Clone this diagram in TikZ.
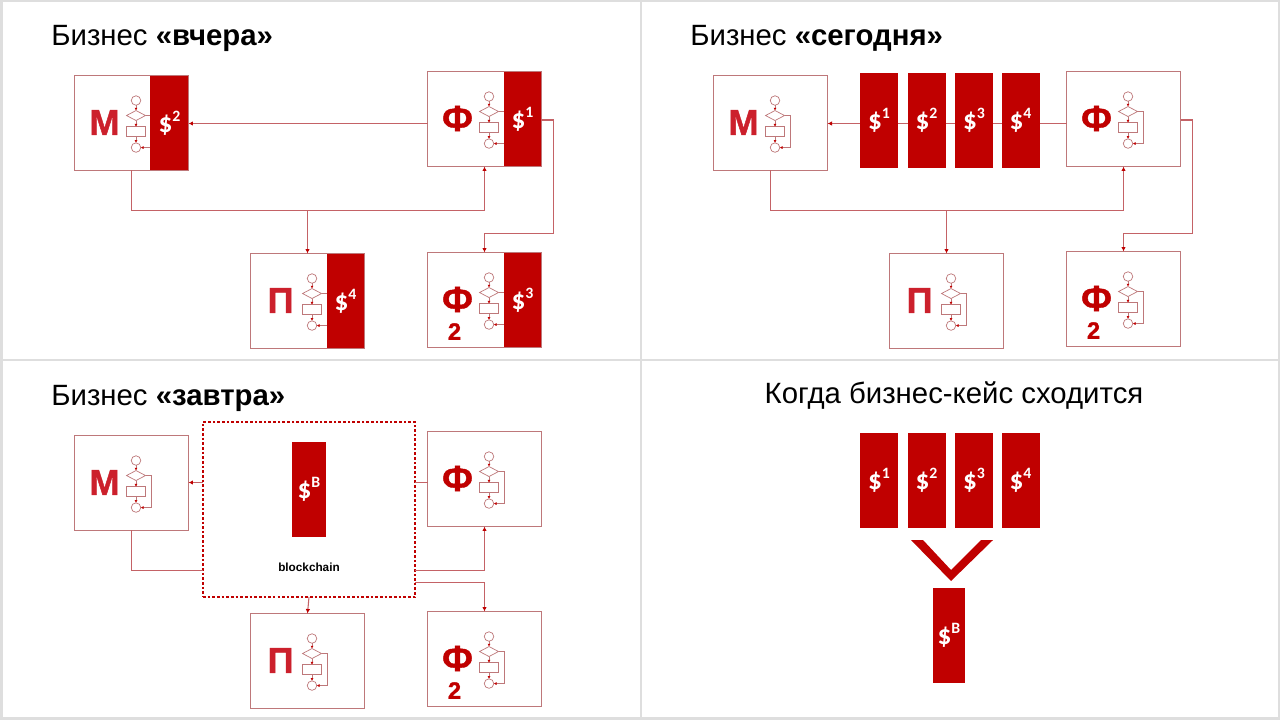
\documentclass[tikz,border=0pt]{standalone}
\usepackage{fontspec}
\usepackage{xcolor}
\setmainfont{Liberation Sans}
\newfontfamily\dollarfont{Carlito}
\newfontfamily\letterfont[FakeBold=1.2]{Liberation Sans Bold}
\usetikzlibrary{arrows.meta,positioning,calc,shapes.geometric}
\definecolor{bizRed}{RGB}{192,0,0}
\definecolor{bizBright}{RGB}{204,32,44}
\definecolor{bizLine}{RGB}{190,120,122}
\definecolor{bizConn}{RGB}{196,98,102}
\definecolor{bizFrame}{RGB}{222,222,222}
\newcommand{\dollarsign}[1]{{\dollarfont\bfseries\fontsize{15.5}{15.5}\selectfont\$\raisebox{0.4em}{\fontsize{9}{9}\selectfont #1}}}
% one unit: box, letter and small flowchart
\newcommand{\unitblock}[5]{%
    \node[unit] (#1) at (#2+57,#3+47.5) {};
    \node[letter, text=#5] (#1l) at ($(#1.north west)+(30,47)$) {#4};
    \node[fcircle] (#1a) at ($(#1.north west)+(61.5,25)$) {};
    \node[fdiamond, below=3pt of #1a] (#1b) {};
    \node[frect, below=3.5pt of #1b] (#1c) {};
    \node[fcircle, below=3.5pt of #1c] (#1d) {};
    \draw[fline] (#1a) -- (#1b);
    \draw[fline] (#1b) -- (#1c);
    \draw[fline] (#1c) -- (#1d);
    \draw[fline] (#1b.east) -| ($(#1c.east)+(5.5,0)$) |- (#1d.east);
}
\begin{document}
\begin{tikzpicture}[
    x=0.02cm, y=-0.02cm,
    unit/.style={rectangle, draw=bizLine, fill=white, line width=0.6pt, minimum width=2.28cm, minimum height=1.9cm, inner sep=0pt, outer sep=0pt},
    letter/.style={font=\letterfont\fontsize{20.5}{20.5}\selectfont, inner sep=0pt},
    numeral/.style={font=\letterfont\fontsize{13.5}{13.5}\selectfont, text=bizRed, inner sep=0pt},
    fcircle/.style={circle, draw=bizLine, fill=white, line width=0.4pt, minimum size=0.19cm, inner sep=0pt, outer sep=0pt},
    fdiamond/.style={diamond, draw=bizLine, fill=white, line width=0.4pt, minimum width=0.38cm, minimum height=0.2cm, inner sep=0pt, outer sep=0pt, aspect=1.9},
    frect/.style={rectangle, draw=bizLine, fill=white, line width=0.4pt, minimum width=0.39cm, minimum height=0.2cm, inner sep=0pt, outer sep=0pt},
    fline/.style={-{Latex[length=0.55mm,width=0.6mm,color=bizRed]}, draw=bizLine, line width=0.4pt},
    dollar/.style={rectangle, fill=bizRed, text=white, minimum width=0.76cm, minimum height=1.9cm, inner sep=0pt, outer sep=0pt},
    arrow/.style={-{Latex[length=0.9mm,width=0.9mm,color=bizRed]}, draw=bizConn, line width=0.6pt},
    conn/.style={draw=bizConn, line width=0.6pt},
    heading/.style={font=\fontsize{16.7}{16.7}\selectfont, text=black, inner sep=0pt}
]
    \useasboundingbox (0,0) rectangle (1280,720);
    % Frame
    \fill[white] (0,0) rectangle (1280,720);
    \draw[bizFrame, line width=1.3pt] (1,1) -- (1279,1);
    \draw[bizFrame, line width=1.7pt] (1.5,0) -- (1.5,720);
    \draw[bizFrame, line width=1.7pt] (0,718.5) -- (1280,718.5);
    \draw[bizFrame, line width=1.1pt] (1279,0) -- (1279,720);
    \draw[bizFrame, line width=1.1pt] (641,0) -- (641,720);
    \draw[bizFrame, line width=1.1pt] (0,360) -- (1280,360);

    % Yesterday
    \node[heading, anchor=base west] (title1) at (51,45) {Бизнес \textbf{«вчера»}};
    \unitblock{ma}{74.5}{75.5}{М}{bizBright}
    \unitblock{fa}{427.5}{71.5}{Ф}{bizRed}
    \unitblock{pa}{250.5}{253.5}{П}{bizBright}
    \unitblock{ga}{427.5}{252.5}{Ф}{bizRed}
    \node[numeral] (ga2) at ($(ga.north west)+(27,79)$) {2};
    \node[dollar, anchor=east] (da2) at (ma.east) {\dollarsign{2}};
    \node[dollar, anchor=east] (da1) at (fa.east) {\dollarsign{1}};
    \node[dollar, anchor=east] (da4) at (pa.east) {\dollarsign{4}};
    \node[dollar, anchor=east] (da3) at (ga.east) {\dollarsign{3}};
    \draw[arrow] (fa.west |- 0,123.5) -- (da2.east |- 0,123.5);
    \draw[arrow] (ma.south -| 131.5,0) |- (pa.north |- 0,210.5) -| (fa.south);
    \draw[arrow] (pa.north |- 0,210.5) -- (pa.north);
    \draw[arrow] ($(fa.east)+(0,1)$) -- ++(12,0) |- (ga.north |- 0,233.5) -- (ga.north);

    % Today
    \node[heading, anchor=base west] (title2) at (690,45) {Бизнес \textbf{«сегодня»}};
    \unitblock{mb}{713.5}{75.5}{М}{bizBright}
    \unitblock{fb}{1066.5}{71.5}{Ф}{bizRed}
    \unitblock{pb}{889.5}{253.5}{П}{bizBright}
    \unitblock{gb}{1066.5}{251.5}{Ф}{bizRed}
    \node[numeral] (gb2) at ($(gb.north west)+(27,79)$) {2};
    \draw[arrow] (fb.west |- 0,123.5) -- (mb.east |- 0,123.5);
    \node[dollar] (db1) at (879,120.5) {\dollarsign{1}};
    \node[dollar] (db2) at (926.5,120.5) {\dollarsign{2}};
    \node[dollar] (db3) at (974,120.5) {\dollarsign{3}};
    \node[dollar] (db4) at (1020.5,120.5) {\dollarsign{4}};
    \draw[arrow] (mb.south -| 770.5,0) |- (pb.north |- 0,210.5) -| (fb.south);
    \draw[arrow] (pb.north |- 0,210.5) -- (pb.north);
    \draw[arrow] ($(fb.east)+(0,1)$) -- ++(12,0) |- (gb.north |- 0,233.5) -- (gb.north);

    % Tomorrow
    \node[heading, anchor=base west] (title3) at (51,405) {Бизнес \textbf{«завтра»}};
    \unitblock{mc}{74.5}{435.5}{М}{bizBright}
    \unitblock{fc}{427.5}{431.5}{Ф}{bizRed}
    \unitblock{pc}{250.5}{613.5}{П}{bizBright}
    \unitblock{gc}{427.5}{611.5}{Ф}{bizRed}
    \node[numeral] (gc2) at ($(gc.north west)+(27,79)$) {2};
    \node[rectangle, draw=bizRed, fill=white, line width=1.6pt, dash pattern=on 1.5pt off 1.15pt, minimum width=4.24cm, minimum height=3.5cm, inner sep=0pt, outer sep=0pt] (chain) at (309,509.5) {};
    \node[dollar, minimum width=0.68cm] (dcb) at (309,489.5) {\dollarsign{B}};
    \node[font=\bfseries\fontsize{6.7}{6.7}\selectfont, inner sep=0pt] (chainlabel) at (309,567) {blockchain};
    \draw[conn] (fc.west |- 0,482.5) -- (chain.east |- 0,482.5);
    \draw[arrow] (chain.west |- 0,482.5) -- (mc.east |- 0,482.5);
    \draw[conn] (mc.south -| 131.5,0) |- (chain.west |- 0,570.5);
    \draw[arrow] (chain.east |- 0,570.5) -| (fc.south);
    \draw[arrow] (chain.east |- 0,582.5) -| (gc.north);
    \draw[arrow] (chain.south) -- (pc.north);

    % When the case adds up
    \node[heading] (title4) at (954,396) {Когда бизнес-кейс сходится};
    \node[dollar] (dd1) at (879,480.5) {\dollarsign{1}};
    \node[dollar] (dd2) at (926.5,480.5) {\dollarsign{2}};
    \node[dollar] (dd3) at (974,480.5) {\dollarsign{3}};
    \node[dollar] (dd4) at (1020.5,480.5) {\dollarsign{4}};
    \fill[bizRed] (911,540) -- (923,540) -- (951,570) -- (981,540) -- (993,540) -- (951,581) -- cycle;
    \node[dollar, minimum width=0.64cm] (ddb) at (949,635.5) {\dollarsign{B}};
\end{tikzpicture}
\end{document}
